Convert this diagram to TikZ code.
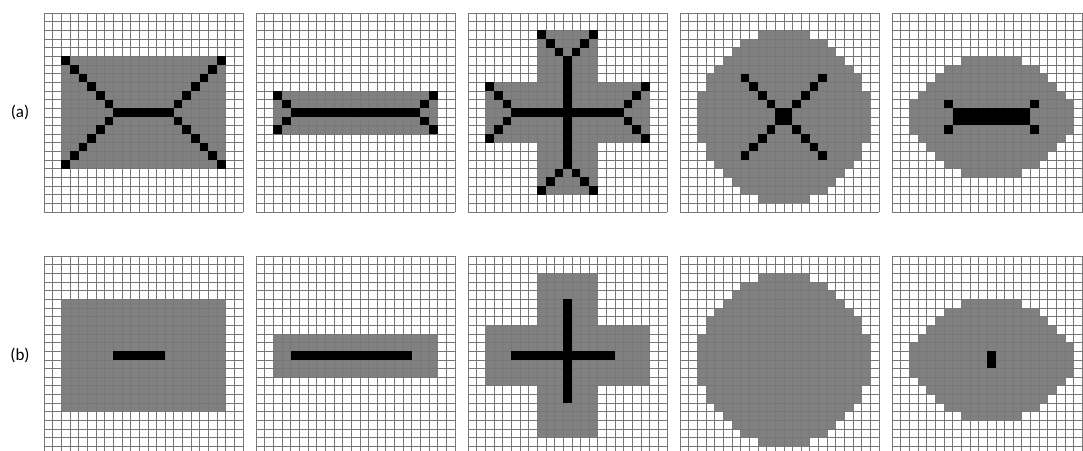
\documentclass[tikz,border=0pt]{standalone}
\usepackage{fontspec}
\setmainfont{Carlito}
\usepackage{xcolor}
\usepackage{tikz}
\usetikzlibrary{positioning}
\definecolor{pxGray}{HTML}{808080}
\definecolor{pxGrid}{HTML}{777777}
\definecolor{pxInk}{HTML}{000000}
\tikzset{
  px-gray/.style={fill=pxGray},
  px-ink/.style={fill=pxInk},
  px-grid/.style={draw=pxGrid, line width=0.6pt},
  px-label/.style={font=\fontsize{17}{20}\selectfont, text=black},
}
% one gray run of cells: row, first col, last col
\newcommand{\pxrow}[3]{\fill[px-gray] (#2,#1) rectangle (#3+1,#1+1);}
% one black run of cells: row, first col, last col
\newcommand{\inkrow}[3]{\fill[px-ink] (#2,#1) rectangle (#3+1,#1+1);}
\newcommand{\inkcol}[3]{\fill[px-ink] (#1,#2) rectangle (#1+1,#3+1);}
\newcommand{\inkdots}[1]{\foreach \c/\r in {#1} {\fill[px-ink] (\c,\r) rectangle ++(1,1);}}
\newcommand{\pxgrid}{%
  \foreach \i in {0,...,23} {
    \draw[px-grid] (\i,0) -- (\i,23);
    \draw[px-grid] (0,\i) -- (23,\i);
  }}
% the five shapes
\newcommand{\shRect}{\fill[px-gray] (2,5) rectangle (21,18);}
\newcommand{\shBar}{\fill[px-gray] (2,9) rectangle (21,14);}
\newcommand{\shCross}{\fill[px-gray] (8,2) rectangle (15,21); \fill[px-gray] (2,8) rectangle (21,15);}
\newcommand{\shDisk}{\foreach \r/\a/\b in {2/9/14, 3/7/16, 4/6/17, 5/5/18, 6/4/19, 7/3/20, 8/3/20,
    9/2/21, 10/2/21, 11/2/21, 12/2/21, 13/2/21, 14/2/21, 15/3/20, 16/3/20, 17/4/19,
    18/5/18, 19/6/17, 20/7/16, 21/9/14} {\pxrow{\r}{\a}{\b}}}
\newcommand{\shOval}{\foreach \r/\a/\b in {5/8/14, 6/6/16, 7/5/17, 8/4/18, 9/3/19, 10/2/20,
    11/2/20, 12/2/20, 13/2/20, 14/3/19, 15/4/18, 16/5/17, 17/6/16, 18/8/14} {\pxrow{\r}{\a}{\b}}}
% panel: column index, top edge, shape, skeleton
\newcommand{\panel}[4]{%
  \begin{scope}[shift={(44+212*#1,#2)}, scale=8.65]
    #3
    \pxgrid
    #4
  \end{scope}}

\begin{document}
\begin{tikzpicture}[x=1pt, y=-1pt]
  \path[use as bounding box, clip] (0,0) rectangle (1083,450);

  \node[px-label] (lbl-a) at (20,112) {(a)};
  \node[px-label] (lbl-b) at (20,355) {(b)};

  % row (a)
  \panel{0}{13}{\shRect}{%
    \inkdots{2/5,3/6,4/7,5/8,6/9,7/10, 20/5,19/6,18/7,17/8,16/9,15/10,
             7/12,6/13,5/14,4/15,3/16,2/17, 15/12,16/13,17/14,18/15,19/16,20/17}
    \inkrow{11}{8}{14}}
  \panel{1}{13}{\shBar}{%
    \inkdots{2/9,3/10,3/12,2/13, 20/9,19/10,19/12,20/13}
    \inkrow{11}{4}{18}}
  \panel{2}{13}{\shCross}{%
    \inkdots{8/2,9/3,10/4, 14/2,13/3,12/4, 10/18,9/19,8/20, 12/18,13/19,14/20,
             2/8,3/9,4/10, 4/12,3/13,2/14, 20/8,19/9,18/10, 18/12,19/13,20/14}
    \inkcol{11}{5}{17}
    \inkrow{11}{5}{17}}
  \panel{3}{13}{\shDisk}{%
    \inkdots{7/7,8/8,9/9,10/10, 16/7,15/8,14/9,13/10,
             10/13,9/14,8/15,7/16, 13/13,14/14,15/15,16/16}
    \fill[px-ink] (11,11) rectangle (13,13);}
  \panel{4}{13}{\shOval}{%
    \inkdots{6/10,6/13,16/10,16/13}
    \fill[px-ink] (7,11) rectangle (16,13);}

  % row (b)
  \panel{0}{256}{\shRect}{\inkrow{11}{8}{13}}
  \panel{1}{256}{\shBar}{\inkrow{11}{4}{17}}
  \panel{2}{256}{\shCross}{%
    \inkcol{11}{5}{16}
    \inkrow{11}{5}{16}}
  \panel{3}{256}{\shDisk}{}
  \panel{4}{256}{\shOval}{\inkdots{11/11,11/12}}
\end{tikzpicture}
\end{document}
